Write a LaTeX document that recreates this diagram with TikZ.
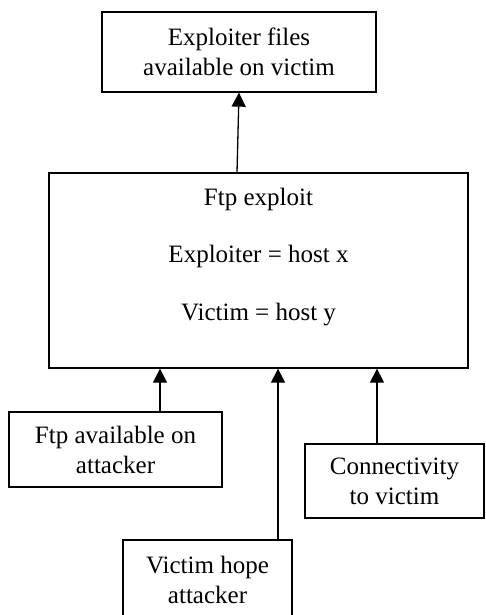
\documentclass[tikz,border=0pt]{standalone}
\usepackage{fontspec}
\setmainfont{Liberation Serif}
\usetikzlibrary{arrows.meta,positioning,calc}

\begin{document}
\begin{tikzpicture}[
    x=1pt, y=-1pt,
    box/.style={draw, line width=1.3pt, align=center, inner sep=0pt,
                font=\fontsize{25}{30}\selectfont},
    arr/.style={-{Triangle[length=14pt, width=14pt]}, line width=1.3pt},
]
    \useasboundingbox (0,0) rectangle (486,615);

    % goal
    \node[box, minimum width=274pt, minimum height=80pt] (goal) at (239,52)
        {Exploiter files\\available on victim};

    % exploit
    \node[box, minimum width=419pt, minimum height=195pt] (exploit) at (258.5,270.5) {};
    \node[align=center, inner sep=0pt, font=\fontsize{25}{30}\selectfont] (exploitlab)
        at ([yshift=13.5pt]exploit.center)
        {Ftp exploit\\[27.5pt]Exploiter = host x\\[27.5pt]Victim = host y};

    % preconditions
    \node[box, minimum width=213pt, minimum height=75pt] (ftpavail) at (115.5,449.5)
        {Ftp available on\\attacker};
    \node[box, minimum width=169pt, minimum height=80pt] (victimhope) at (207.5,580)
        {Victim hope\\attacker};
    \node[box, minimum width=179pt, minimum height=74pt] (connect) at (394.5,481)
        {Connectivity\\to victim};

    % arrows
    \coordinate (c1) at ([xshift=44.5pt]ftpavail.north);
    \coordinate (c2) at ([xshift=70.5pt]victimhope.north);
    \coordinate (c3) at ([xshift=-17.5pt]connect.north);
    \draw[arr] (c1) -- (c1 |- exploit.south);
    \draw[arr] (c2) -- (c2 |- exploit.south);
    \draw[arr] (c3) -- (c3 |- exploit.south);
    \draw[arr] ([xshift=-21.5pt]exploit.north) -- (goal.south);
\end{tikzpicture}
\end{document}
